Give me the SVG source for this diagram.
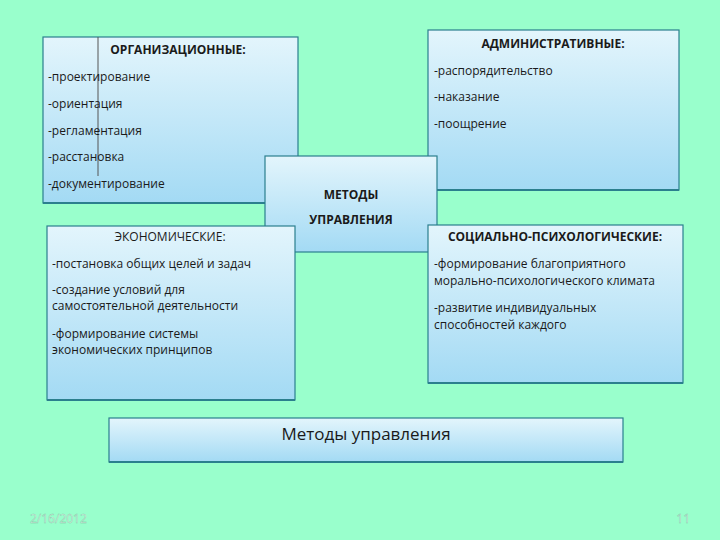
<svg xmlns="http://www.w3.org/2000/svg" width="720" height="540" viewBox="0 0 720 540">
<defs>
<linearGradient id="g" x1="0" y1="0" x2="0" y2="1"><stop offset="0" stop-color="#e3f5fc"/><stop offset="1" stop-color="#a3daf4"/></linearGradient>
<style>
.b{fill:url(#g);stroke:#2b7f8e;stroke-width:1.2}
.sh{fill:none;stroke:#2b7f8e;stroke-width:2}
text{font-family:"Open Sans","DejaVu Sans",sans-serif;font-size:12px;fill:#1a1a1a}
.h{font-weight:bold}
</style>
</defs>
<rect width="720" height="540" fill="#99ffcc"/>
<g id="org"><rect class="b" x="43" y="37" width="255" height="166"/><line class="sh" x1="43" y1="203" x2="298" y2="203"/><line x1="98" y1="37" x2="98" y2="176" stroke="#555" stroke-width="1"/>
<text class="h" x="178" y="54" text-anchor="middle">ОРГАНИЗАЦИОННЫЕ:</text>
<text x="48" y="81">-проектирование</text><text x="48" y="108">-ориентация</text><text x="48" y="135">-регламентация</text><text x="48" y="161">-расстановка</text><text x="48" y="188">-документирование</text></g>
<g id="admin"><rect class="b" x="428" y="30" width="251" height="160"/><line class="sh" x1="428" y1="190" x2="679" y2="190"/>
<text class="h" x="553" y="48" text-anchor="middle">АДМИНИСТРАТИВНЫЕ:</text>
<text x="434" y="75">-распорядительство</text><text x="434" y="101">-наказание</text><text x="434" y="128">-поощрение</text></g>
<g id="center"><rect class="b" x="265" y="156" width="172" height="96"/>
<text class="h" x="351" y="199" text-anchor="middle">МЕТОДЫ</text><text class="h" x="351" y="224" text-anchor="middle">УПРАВЛЕНИЯ</text></g>
<g id="econ"><rect class="b" x="47" y="226" width="248" height="174"/><line class="sh" x1="47" y1="400" x2="295" y2="400"/>
<text x="170" y="241" text-anchor="middle">ЭКОНОМИЧЕСКИЕ:</text>
<text x="52" y="268">-постановка общих целей и задач</text><text x="52" y="294">-создание условий для</text><text x="52" y="310">самостоятельной деятельности</text><text x="52" y="338">-формирование системы</text><text x="52" y="354">экономических принципов</text></g>
<g id="social"><rect class="b" x="428" y="225" width="255" height="158"/><line class="sh" x1="428" y1="383" x2="683" y2="383"/>
<text class="h" x="555" y="241" text-anchor="middle">СОЦИАЛЬНО-ПСИХОЛОГИЧЕСКИЕ:</text>
<text x="434" y="268">-формирование благоприятного</text><text x="434" y="285">морально-психологического климата</text><text x="434" y="312">-развитие индивидуальных</text><text x="434" y="329">способностей каждого</text></g>
<g id="title"><rect class="b" x="109" y="418" width="514" height="44"/><line class="sh" x1="109" y1="462" x2="623" y2="462"/>
<text x="366" y="440" text-anchor="middle" style="font-size:17px">Методы управления</text></g>
<g id="connectors"/>
<text x="30" y="523" style="font-size:12px;fill:#e8fff4;stroke:#7fbfa0;stroke-width:0.4">2/16/2012</text>
<text x="690" y="523" text-anchor="end" style="font-size:12px;fill:#e8fff4;stroke:#7fbfa0;stroke-width:0.4">11</text>
</svg>
